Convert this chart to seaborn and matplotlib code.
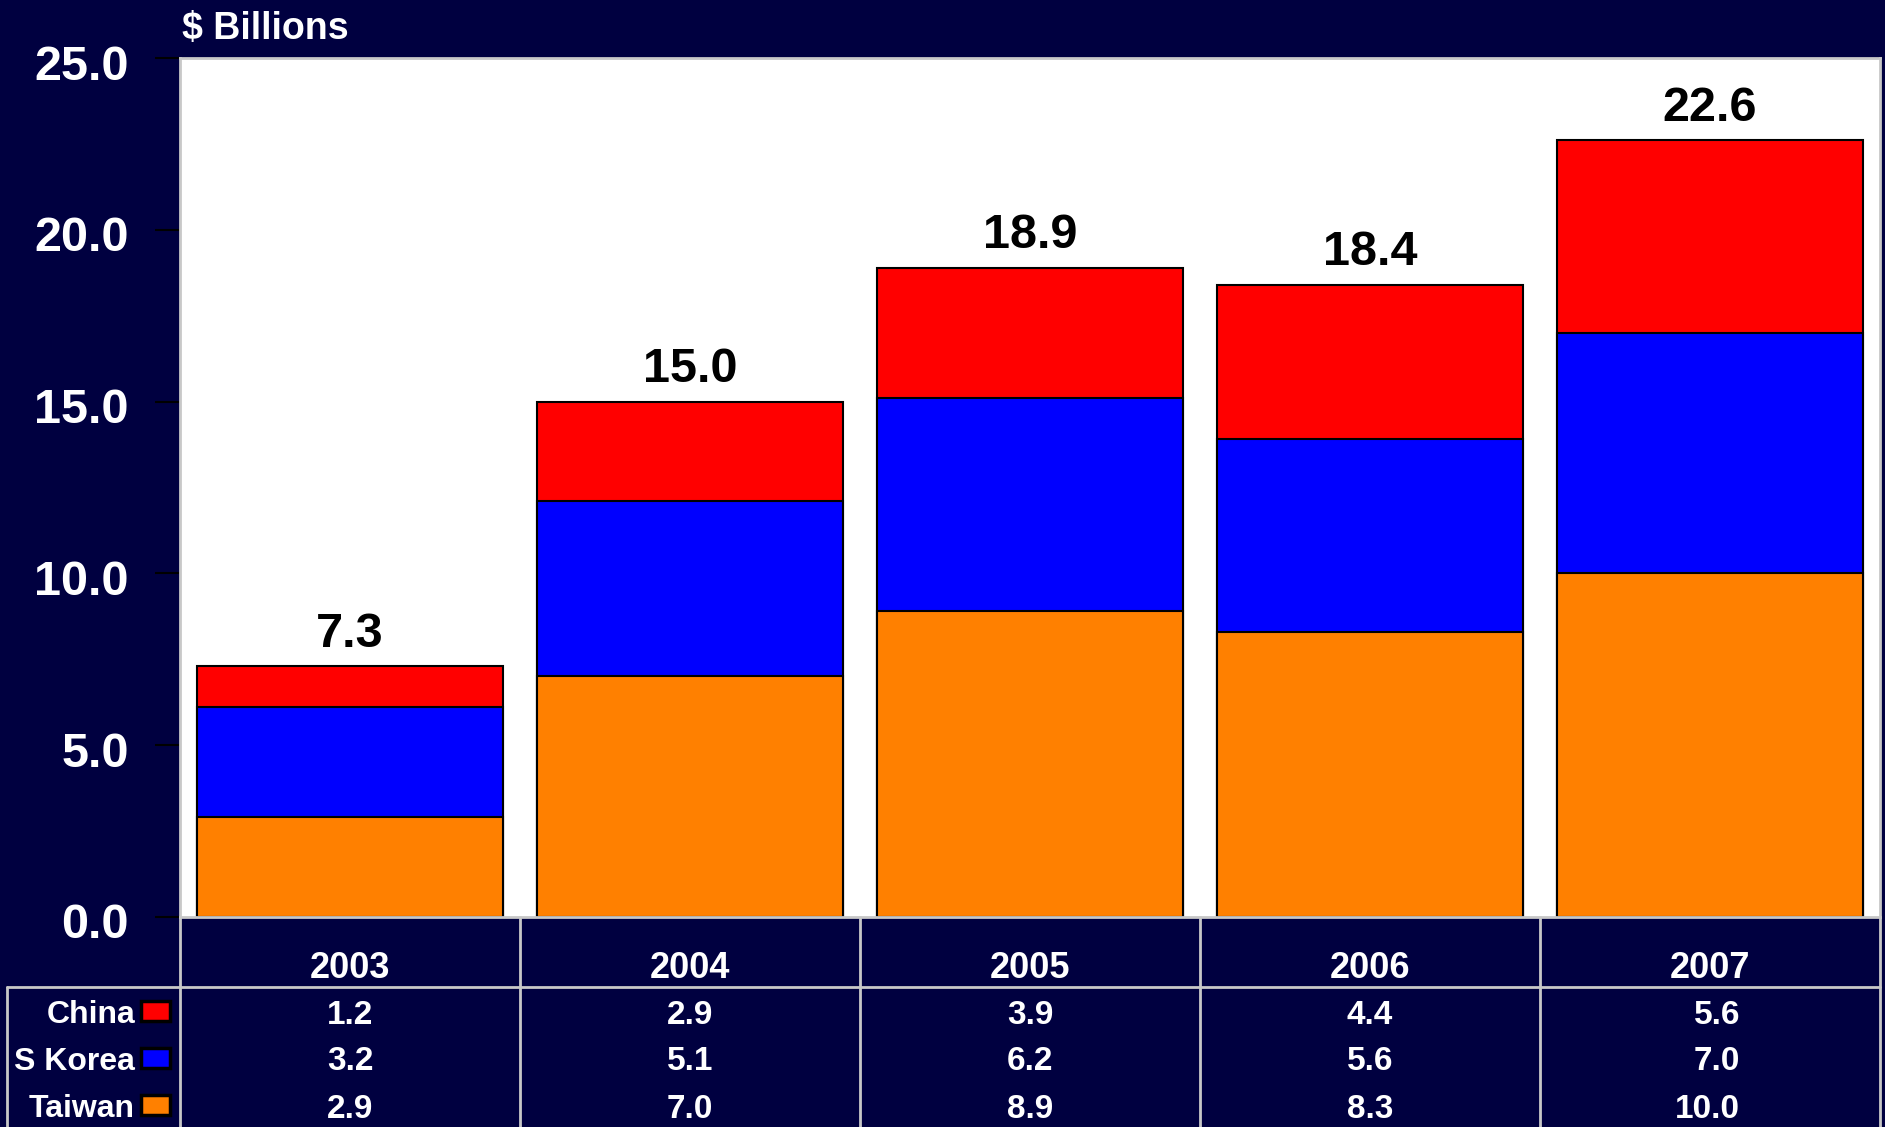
import matplotlib
matplotlib.use("Agg")
import matplotlib.pyplot as plt
import matplotlib.transforms as mtransforms
import seaborn as sns
from matplotlib.patches import Rectangle
from matplotlib.lines import Line2D

# data ($ billions)
years = ["2003", "2004", "2005", "2006", "2007"]
china = [1.2, 2.9, 3.9, 4.4, 5.6]
skorea = [3.2, 5.1, 6.2, 5.6, 7.0]
taiwan = [2.9, 7.0, 8.9, 8.3, 10.0]
totals = [7.3, 15.0, 18.9, 18.4, 22.6]
yticks = [0, 5, 10, 15, 20, 25]

series_names = ["China", "S Korea", "Taiwan"]
series_vals = [china, skorea, taiwan]
series_colors = ["#ff0000", "#0000ff", "#ff8000"]

BG = "#000040"
GRID = "#c8c8c8"
W, H = 1885, 1127

sns.set_theme(style="white")
plt.rcParams["font.family"] = ["Liberation Sans", "DejaVu Sans"]
plt.rcParams["font.weight"] = "bold"

fig = plt.figure(figsize=(W / 100, H / 100), dpi=100)
fig.patch.set_facecolor(BG)

# plot area in pixels: x 180..1880, y 58..917
ax = fig.add_axes([180 / W, 1 - 917 / H, 1700 / W, 859 / H])
ax.set_facecolor("white")

# stacked bars drawn as overlaid cumulative layers
korea_top = [t + k for t, k in zip(taiwan, skorea)]
sns.barplot(x=years, y=totals, color=series_colors[0], saturation=1, width=0.9,
            edgecolor="black", linewidth=1.5, ax=ax)
sns.barplot(x=years, y=korea_top, color=series_colors[1], saturation=1, width=0.9,
            edgecolor="black", linewidth=1.5, ax=ax)
sns.barplot(x=years, y=taiwan, color=series_colors[2], saturation=1, width=0.9,
            edgecolor="black", linewidth=1.5, ax=ax)

for i, t in enumerate(totals):
    ax.annotate(f"{t:.1f}", (i, t), xytext=(0, 14), textcoords="offset points",
                ha="center", va="baseline", fontsize=35, fontweight="bold",
                color="black")

ax.set_xlim(-0.5, 4.5)
ax.set_ylim(0, 25)
ax.set_yticks(yticks)
ax.set_yticklabels([f"{v:.1f}" for v in yticks])
ax.tick_params(axis="y", direction="out", length=18, width=1.5, color="black",
               pad=19, labelsize=35, labelcolor="white", left=True)
ax.tick_params(axis="x", length=0, labelbottom=False)
# nudge the tick labels down a little, like the original
shift = mtransforms.ScaledTranslation(0, -4 / 100, fig.dpi_scale_trans)
for lab in ax.get_yticklabels():
    lab.set_transform(lab.get_transform() + shift)
ax.set_xlabel("")
ax.set_ylabel("")
for s in ax.spines.values():
    s.set_color(GRID)
    s.set_linewidth(2)

fig.text(182 / W, 1 - 29 / H, "$ Billions", color="white", fontsize=27,
         fontweight="bold", ha="left", va="center")


# data table under the plot
def fy(py):
    return 1 - py / H


xt = ax.get_xaxis_transform()
row_y = [1015, 1062, 1109]
for i, yr in enumerate(years):
    ax.text(i, -51 / 859, yr, transform=xt, ha="center", va="center",
            fontsize=26, fontweight="bold", color="white", clip_on=False)

for r, (name, vals, col) in enumerate(zip(series_names, series_vals, series_colors)):
    yy = fy(row_y[r])
    fig.text(135 / W, yy, name, ha="right", va="center", fontsize=23,
             fontweight="bold", color="white")
    sy = fy(row_y[r] - 4)
    fig.patches.append(Rectangle((141 / W, sy - 10 / H), 29 / W, 20 / H,
                                 facecolor=col, edgecolor="black", linewidth=2.5,
                                 transform=fig.transFigure, figure=fig))
    for i, v in enumerate(vals):
        if i == len(vals) - 1:
            fig.text(1740 / W, yy, f"{v:.1f}", ha="right", va="center",
                     fontsize=24, fontweight="bold", color="white")
        else:
            ax.text(i, (917 - row_y[r]) / 859, f"{v:.1f}", transform=xt,
                    ha="center", va="center", fontsize=24, fontweight="bold",
                    color="white", clip_on=False)

# table grid lines
lines = [((7, 1880), (987, 987)), ((7, 7), (987, H)), ((1880, 1880), (917, H))]
for k in range(5):
    x = 180 + 340 * k
    lines.append(((x, x), (917, H)))
for xs, ys in lines:
    fig.lines.append(Line2D([x / W for x in xs], [fy(y) for y in ys],
                            color=GRID, linewidth=2, transform=fig.transFigure,
                            figure=fig))

fig.savefig("out.png", dpi=100, facecolor=BG)
